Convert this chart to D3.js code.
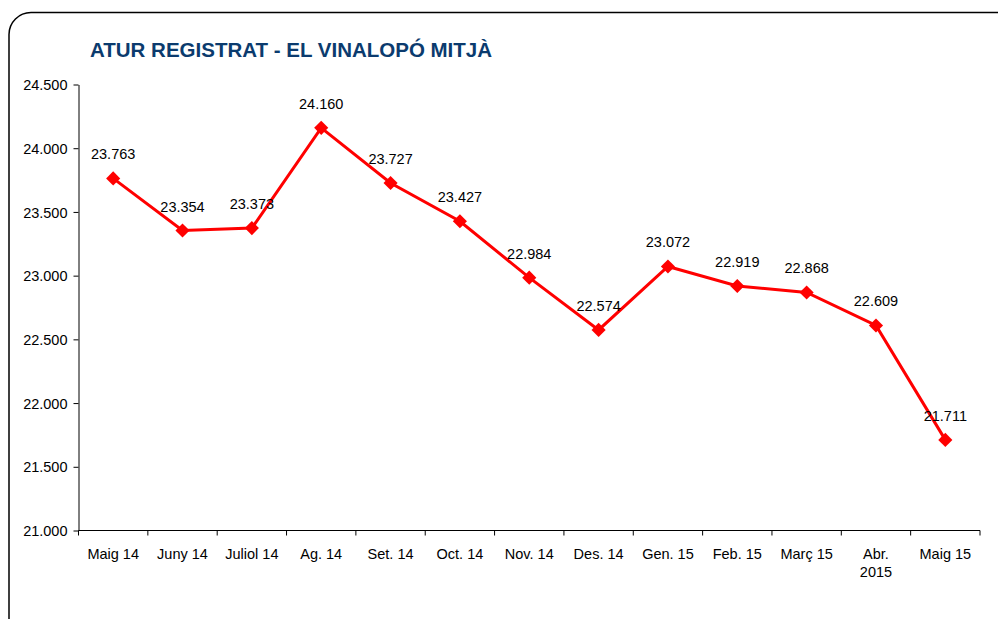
<!DOCTYPE html>
<html><head><meta charset="utf-8">
<script src="https://cdn.jsdelivr.net/npm/d3@7"></script>
<style>body{margin:0;background:#fff;}svg{display:block;font-family:"Liberation Sans",Arial,sans-serif;}</style>
</head><body>
<svg id="c" width="998" height="619"></svg>
<script>
const categories = ["Maig 14","Juny 14","Juliol 14","Ag. 14","Set. 14","Oct. 14","Nov. 14","Des. 14","Gen. 15","Feb. 15","Març 15","Abr.\n2015","Maig 15"];
const values = [23763,23354,23373,24160,23727,23427,22984,22574,23072,22919,22868,22609,21711];
const yTicks = [21000,21500,22000,22500,23000,23500,24000,24500];

const svg = d3.select("#c");
svg.append("rect").attr("x",9).attr("y",12.5).attr("width",1010).attr("height",640)
  .attr("rx",22).attr("fill","#fff").attr("stroke","#000").attr("stroke-width",1.5);

svg.append("text").attr("x",90).attr("y",57).text("ATUR REGISTRAT - EL VINALOPÓ MITJÀ")
  .attr("font-size",20.5).attr("font-weight","bold").attr("fill","#0b3b6e");

const L=78.5, R=980, T=84.5, B=530.5;
const FS=14.5;
const x = d3.scaleBand().domain(categories).range([L,R]);
const y = d3.scaleLinear().domain([21000,24500]).range([B,T]);
const fmt = d => d3.format(",")(d).replace(/,/g,".");

const yAx = svg.append("g").attr("transform",`translate(${L},0)`)
  .call(d3.axisLeft(y).tickValues(yTicks).tickFormat(d=>d3.format(".3f")(d/1000)).tickSize(5).tickSizeOuter(0));
yAx.selectAll("text").attr("font-size",FS).attr("fill","#000").attr("x",-11).attr("dy","0.35em");
yAx.select(".domain").attr("stroke","#000");
yAx.selectAll(".tick line").attr("stroke","#000");

const xAx = svg.append("g").attr("transform",`translate(0,${B})`);
xAx.append("line").attr("x1",L).attr("x2",R).attr("stroke","#000");
const edges = categories.map(c=>x(c)).concat([R]);
xAx.selectAll("line.t").data(edges).join("line").attr("class","t")
  .attr("x1",d=>d).attr("x2",d=>d).attr("y1",0).attr("y2",5).attr("stroke","#000");
const xl = xAx.selectAll("text").data(categories).join("text")
  .attr("x",d=>x(d)+x.bandwidth()/2).attr("y",28).attr("text-anchor","middle")
  .attr("font-size",FS).attr("fill","#000");
xl.each(function(d){
  const parts=d.split("\n");
  const t=d3.select(this);
  parts.forEach((p,i)=>t.append("tspan").attr("x",x(d)+x.bandwidth()/2).attr("dy",i?"1.3em":0).text(p));
});

const cx = d => x(d)+x.bandwidth()/2;
const line = d3.line().x((d,i)=>cx(categories[i])).y(d=>y(d));
svg.append("path").datum(values).attr("d",line).attr("fill","none").attr("stroke","#ff0000").attr("stroke-width",3);

svg.selectAll("path.m").data(values).join("path").attr("class","m")
  .attr("d",d3.symbol().type(d3.symbolSquare).size(100))
  .attr("transform",(d,i)=>`translate(${cx(categories[i])},${y(d)}) rotate(45)`)
  .attr("fill","#ff0000");

svg.selectAll("text.lbl").data(values).join("text").attr("class","lbl")
  .attr("x",(d,i)=>cx(categories[i])).attr("y",d=>y(d)-19).attr("text-anchor","middle")
  .attr("font-size",FS).attr("fill","#000").text(fmt);
</script>
</body></html>
